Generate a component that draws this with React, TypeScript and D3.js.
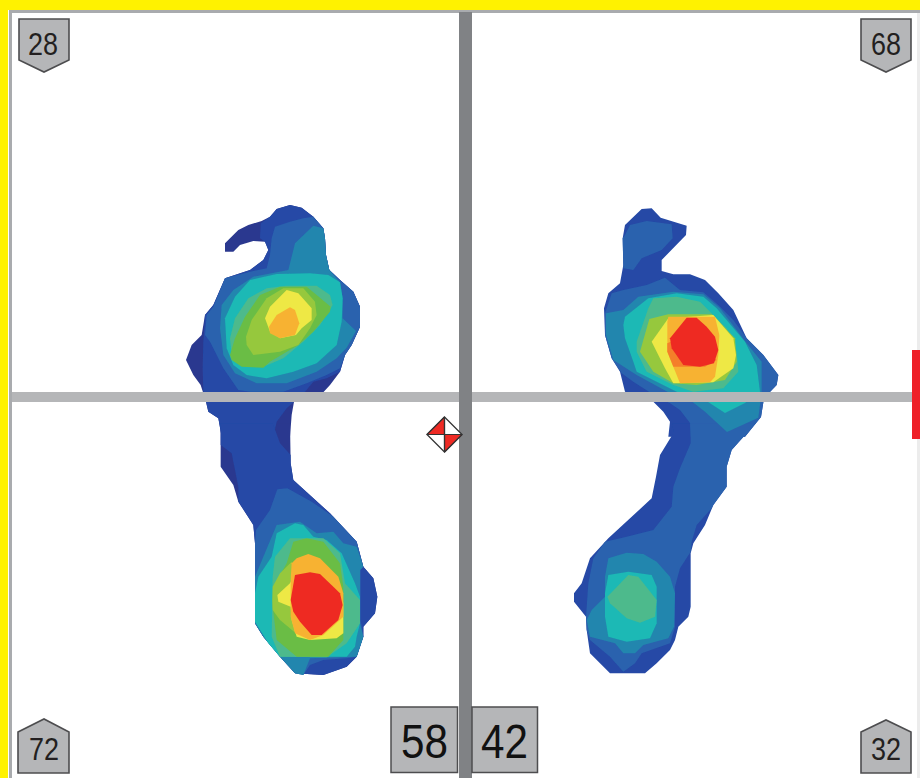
import React from "react";
import * as d3 from "d3";

type P = [number, number];

// pressure-zone contours, one small list per zone and foot area
const lfNavy: P[] = [[165,170],[165,145],[205,105],[235,90],[275,78],[300,65],[320,42],[360,30],[395,38],[430,65],[460,100],[465,130],[468,180],[478,225],[510,255],[550,290],[570,335],[570,395],[545,450],[525,480],[510,530],[480,570],[460,592],[372,620],[365,660],[360,725],[155,725],[145,670],[115,650],[108,620],[92,570],[70,540],[48,495],[65,450],[95,420],[105,360],[130,330],[165,250],[240,225],[280,195],[295,165],[285,140],[250,138],[210,150],[190,170]];
const lfBlue: P[] = [[272,85],[300,65],[320,42],[360,30],[395,38],[430,65],[460,100],[465,130],[468,180],[478,225],[510,255],[550,290],[570,335],[570,395],[545,450],[525,480],[510,530],[470,550],[430,560],[405,590],[372,620],[350,640],[320,680],[310,725],[155,725],[145,670],[115,650],[108,620],[100,590],[98,520],[100,440],[105,360],[130,330],[165,250],[240,225],[280,195],[295,165],[285,140],[270,130]];
const lfMid: P[] = [[305,130],[315,95],[360,80],[400,70],[430,65],[460,100],[465,130],[468,180],[478,225],[510,255],[550,290],[570,335],[570,395],[545,450],[525,480],[510,520],[470,540],[410,565],[340,590],[240,590],[205,585],[160,520],[140,480],[120,440],[105,420],[110,360],[130,335],[165,250],[240,230],[290,220],[300,180]];
const lfTeal: P[] = [[355,225],[375,145],[430,92],[460,100],[465,130],[468,180],[478,225],[510,262],[518,310],[518,370],[558,408],[530,458],[500,490],[440,530],[350,565],[260,565],[195,535],[160,480],[150,400],[155,330],[190,285],[250,245]];
const lfCyan: P[] = [[165,370],[195,305],[240,255],[320,237],[420,235],[475,240],[510,262],[518,310],[515,380],[500,450],[440,505],[370,530],[290,550],[230,540],[190,510],[170,460]];
const lfSea: P[] = [[180,430],[195,370],[235,310],[290,280],[350,272],[440,272],[480,300],[488,330],[450,390],[400,440],[340,490],[280,515],[210,510],[185,480]];
const lfGreen: P[] = [[180,480],[195,430],[225,365],[270,300],[330,275],[410,275],[440,300],[482,335],[480,350],[430,410],[385,450],[300,500],[280,518],[215,515],[185,495]];
const lfLime: P[] = [[228,425],[245,375],[290,310],[340,280],[400,280],[435,320],[440,360],[420,400],[385,450],[330,470],[250,480],[230,450]];
const lfYellow: P[] = [[285,370],[300,335],[350,285],[385,295],[425,340],[425,375],[395,400],[378,420],[330,430],[300,410]];
const lfOrange: P[] = [[297,395],[320,360],[360,337],[375,345],[388,385],[375,420],[330,430],[300,415]];

const lhNavy: P[] = [[62,-20],[62,110],[100,165],[115,215],[160,285],[165,340],[165,580],[190,620],[240,680],[285,730],[370,735],[440,710],[470,680],[490,620],[490,590],[525,550],[532,500],[520,445],[490,410],[470,335],[390,250],[280,150],[272,100],[270,-20]];
const lhBlue: P[] = [[62,-20],[62,45],[95,70],[115,170],[115,215],[160,285],[165,340],[165,580],[190,620],[240,680],[285,730],[370,735],[440,710],[470,680],[490,620],[490,590],[525,550],[532,500],[520,445],[490,410],[470,335],[390,250],[280,150],[272,100],[272,75],[240,40],[218,-20]];
const lhMid: P[] = [[165,580],[165,340],[168,300],[210,240],[232,178],[262,175],[335,215],[400,260],[470,335],[490,410],[482,420],[482,570],[490,620],[470,680],[440,685],[370,690],[330,705],[310,735],[285,730],[240,680],[190,620]];
const lhTeal: P[] = [[165,440],[230,285],[300,275],[350,310],[400,305],[430,340],[470,350],[490,410],[480,420],[480,580],[490,620],[470,680],[330,685],[310,735],[285,730],[240,680],[190,620],[165,580]];
const lhCyan: P[] = [[165,490],[175,440],[215,380],[230,310],[285,280],[310,285],[340,320],[380,330],[425,370],[465,460],[480,500],[480,580],[470,620],[465,650],[440,680],[240,680],[205,640],[165,575]];
const lhSea: P[] = [[218,440],[225,380],[270,325],[370,325],[420,370],[435,460],[480,510],[480,580],[440,640],[380,682],[240,680],[215,620]];
const lhGreen: P[] = [[218,530],[220,470],[260,400],[280,335],[320,325],[370,335],[420,400],[430,470],[430,630],[385,680],[290,680],[230,630]];
const lhLime: P[] = [[217,510],[218,470],[240,430],[275,395],[285,420],[280,560],[300,620],[240,570],[218,540]];
const lhYellow: P[] = [[232,495],[270,460],[285,430],[420,470],[430,520],[430,610],[410,625],[330,630],[290,620],[275,570],[272,530],[235,515]];
const lhOrange: P[] = [[275,400],[290,385],[325,372],[360,385],[415,440],[430,490],[430,560],[370,615],[330,630],[285,610],[272,560],[272,450]];
const lhRed: P[] = [[285,435],[330,427],[360,432],[400,470],[420,490],[428,525],[415,570],[365,615],[335,615],[300,575],[280,545],[272,510]];

const rfBlue: P[] = [[155,42],[185,40],[212,68],[290,92],[288,120],[215,195],[215,228],[250,238],[300,238],[345,255],[385,295],[430,345],[470,430],[520,480],[565,540],[560,570],[522,610],[513,666],[465,725],[235,725],[240,680],[220,650],[190,620],[105,590],[90,530],[65,490],[45,420],[42,340],[55,295],[90,265],[100,210],[98,130],[105,90]];
const rfMidToe: P[] = [[105,120],[120,90],[170,78],[245,88],[248,130],[215,165],[155,190],[130,225],[100,220],[98,130]];
const rfMid: P[] = [[45,355],[65,295],[100,285],[170,270],[225,248],[270,285],[340,292],[385,330],[430,375],[470,430],[520,480],[565,540],[560,570],[522,610],[513,666],[465,725],[302,725],[300,684],[270,645],[240,625],[200,605],[130,560],[95,535],[65,490],[45,420]];
const rfTeal: P[] = [[48,355],[100,345],[145,305],[250,290],[340,298],[390,340],[470,445],[515,500],[515,590],[505,668],[411,711],[345,650],[300,615],[250,600],[140,540],[70,495],[48,420]];
const rfCyan: P[] = [[100,390],[105,365],[175,310],[260,295],[340,305],[380,340],[465,440],[500,510],[510,590],[465,624],[405,654],[345,615],[260,590],[140,530],[130,500],[105,430]];
const rfSea: P[] = [[140,440],[175,340],[190,310],[260,305],[330,320],[410,400],[440,470],[445,530],[400,580],[310,590],[250,570],[170,530],[140,470]];
const rfLime: P[] = [[150,470],[178,372],[235,358],[365,358],[435,430],[440,500],[405,555],[320,570],[250,565],[190,530]];
const rfYellow: P[] = [[185,440],[235,370],[370,360],[430,430],[438,480],[430,520],[370,562],[250,565],[225,520],[205,480]];
const rfOrange: P[] = [[232,380],[235,365],[375,365],[388,420],[385,480],[375,545],[360,562],[270,565],[250,515],[232,470]];
const rfDeep: P[] = [[232,445],[290,420],[380,495],[345,515],[250,515],[232,470]];
const rfRed: P[] = [[240,430],[290,368],[320,368],[350,395],[375,425],[385,465],[372,505],[330,515],[280,510],[245,460]];

const rhBlue: P[] = [[338,-20],[587,-20],[560,10],[515,60],[500,110],[500,170],[460,225],[435,285],[400,340],[392,370],[392,530],[385,560],[355,590],[345,630],[330,660],[290,700],[255,730],[150,730],[90,670],[80,600],[78,560],[42,515],[42,490],[65,460],[90,385],[145,325],[275,205],[288,140],[300,75],[340,10]];
const rhMid: P[] = [[392,-20],[587,-20],[560,10],[515,60],[500,110],[500,170],[460,225],[455,235],[410,285],[395,335],[392,365],[360,415],[345,470],[345,590],[330,640],[245,670],[225,700],[190,725],[150,680],[90,630],[80,600],[78,560],[85,460],[100,385],[135,335],[200,320],[280,300],[335,230],[340,170],[360,115],[392,40]];
const rhTeal: P[] = [[145,385],[200,368],[250,372],[290,395],[330,440],[345,490],[342,590],[325,625],[250,645],[225,670],[190,670],[165,640],[90,620],[80,570],[95,540],[135,500],[135,440]];
const rhCyan: P[] = [[145,435],[205,425],[275,435],[290,470],[290,580],[270,625],[200,635],[145,620],[135,560],[135,490]];
const rhSea: P[] = [[142,500],[205,435],[235,440],[290,510],[285,560],[240,578],[200,565],[150,520]];

const leftPct = 58;
const rightPct = 42;
const quadrantValues = [28, 68, 72, 32];

const NAVY = "#2b398f", BLUE = "#2549a6", MID = "#2a62ae", TEAL = "#2286ae", CYAN = "#1cb9b5", SEA = "#4dba8c",
  GREEN = "#6abd45", LIME = "#96c83e", YELLOW = "#eee844", ORANGE = "#f7b232", DEEP = "#f47f2a", RED = "#ee2a24";

// each foot area has its own scale from picture units to the page
const area = (x0: number, y0: number) => ({
  x: d3.scaleLinear().domain([0, 3]).range([x0, x0 + 1]),
  y: d3.scaleLinear().domain([0, 3]).range([y0, y0 + 1]),
});
const lf = area(170, 195), lh = area(200, 430), rf = area(590, 195), rh = area(560, 430);

const layers: [typeof lf, P[], string][] = [
  [lf, lfNavy, NAVY], [lh, lhNavy, NAVY], [lf, lfBlue, BLUE], [lh, lhBlue, BLUE], [rf, rfBlue, BLUE], [rh, rhBlue, BLUE],
  [rf, rfMidToe, MID], [lf, lfMid, MID], [lh, lhMid, MID], [rf, rfMid, MID], [rh, rhMid, MID],
  [lf, lfTeal, TEAL], [lh, lhTeal, TEAL], [rf, rfTeal, TEAL], [rh, rhTeal, TEAL],
  [lf, lfCyan, CYAN], [lh, lhCyan, CYAN], [rf, rfCyan, CYAN], [rh, rhCyan, CYAN],
  [lf, lfSea, SEA], [lh, lhSea, SEA], [rf, rfSea, SEA], [rh, rhSea, SEA],
  [lf, lfGreen, GREEN], [lh, lhGreen, GREEN],
  [lf, lfLime, LIME], [lh, lhLime, LIME], [rf, rfLime, LIME],
  [lf, lfYellow, YELLOW], [lh, lhYellow, YELLOW], [rf, rfYellow, YELLOW],
  [lf, lfOrange, ORANGE], [lh, lhOrange, ORANGE], [rf, rfOrange, ORANGE],
  [rf, rfDeep, DEEP],
  [lh, lhRed, RED], [rf, rfRed, RED],
];

const pathOf = (a: typeof lf, pts: P[]) =>
  d3.line<P>().x((d) => a.x(d[0])).y((d) => a.y(d[1])).curve(d3.curveLinearClosed)(pts) as string;

const GREY = "#b5b6b8";
const FONT = "'Liberation Sans', Arial, sans-serif";

export default function App() {
  const badges = [
    { pts: "19,19 69,19 69,60 44,72 19,60", x: 43, y: 55 },
    { pts: "861,19 911,19 911,60 886,72 861,60", x: 886, y: 55 },
    { pts: "18,732 44,719 69,732 69,773 18,773", x: 44, y: 760 },
    { pts: "861,732 886,720 911,732 911,773 861,773", x: 886, y: 760 },
  ];
  return (
    <svg width={920} height={778} viewBox="0 0 920 778" style={{ position: "absolute", left: 0, top: 0, display: "block" }}>
      <defs>
        <filter id="soft" x="-5%" y="-5%" width="110%" height="110%">
          <feGaussianBlur stdDeviation="0.6" />
        </filter>
      </defs>
      <rect width={920} height={778} fill="#fff" />
      <rect x={9} y={10} width={911} height={3} fill="#a9abae" />
      <rect x={9} y={10} width={3} height={768} fill="#a9abae" />
      <rect x={917} y={13} width={3} height={765} fill="#ececec" />
      <rect width={920} height={10} fill="#fff200" />
      <rect width={8} height={778} fill="#fff200" />
      <g filter="url(#soft)">
        {layers.map(([a, pts, c], i) => (
          <path key={i} d={pathOf(a, pts)} fill={c} />
        ))}
      </g>
      <rect x={12} y={392} width={900} height={10} fill={GREY} />
      <rect x={912} y={350} width={8} height={89} fill="#ee2028" />
      <rect x={459} y={12} width={13} height={766} fill="#808285" />
      <g stroke="#333" strokeWidth={1.2} strokeLinejoin="round">
        <polygon points="444.5,417 462,434.5 444.5,452 427,434.5" fill="#fff" />
        <polygon points="444.5,417 427,434.5 444.5,434.5" fill="#ee2a24" />
        <polygon points="444.5,452 462,434.5 444.5,434.5" fill="#ee2a24" />
        <line x1={444.5} y1={417} x2={444.5} y2={452} />
        <line x1={427} y1={434.5} x2={462} y2={434.5} />
      </g>
      {badges.map((b, i) => (
        <g key={i}>
          <polygon points={b.pts} fill={GREY} stroke="#4d4d4f" strokeWidth={1.6} />
          <text x={b.x} y={b.y} textAnchor="middle" fontFamily={FONT} fontSize={31} fill="#231f20" textLength={30} lengthAdjust="spacingAndGlyphs">
            {quadrantValues[i]}
          </text>
        </g>
      ))}
      <rect x={391} y={707} width={66.5} height={65.5} fill={GREY} stroke="#4d4d4f" strokeWidth={1.5} />
      <rect x={472} y={707} width={65.5} height={65.5} fill={GREY} stroke="#4d4d4f" strokeWidth={1.5} />
      <text x={424.5} y={758} textAnchor="middle" fontFamily={FONT} fontSize={48} fill="#111" textLength={47} lengthAdjust="spacingAndGlyphs">{leftPct}</text>
      <text x={504.5} y={758} textAnchor="middle" fontFamily={FONT} fontSize={48} fill="#111" textLength={47} lengthAdjust="spacingAndGlyphs">{rightPct}</text>
    </svg>
  );
}
